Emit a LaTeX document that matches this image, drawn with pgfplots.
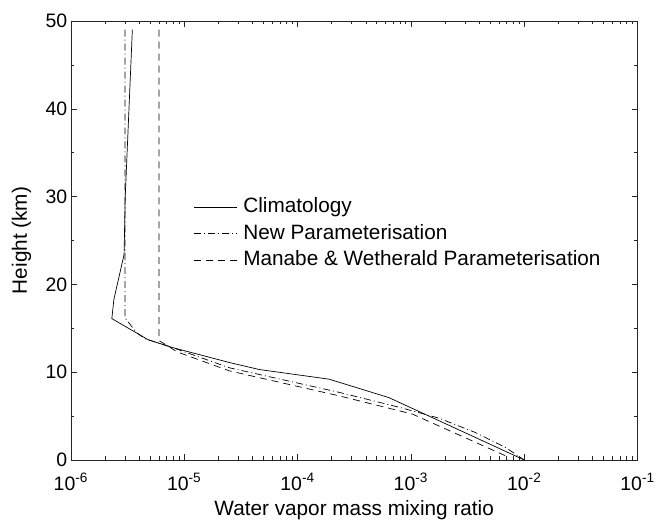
\documentclass[border=0pt]{standalone}
\usepackage{fontspec}
\setmainfont{Liberation Sans}
\usepackage{pgfplots}
\pgfplotsset{compat=1.18}

\begin{document}
\begin{tikzpicture}
\begin{axis}[
    name=ax,
    scale only axis,
    width=568pt, height=440pt,
    xmode=log,
    xmin=1e-6, xmax=1e-1,
    ymin=0, ymax=50,
    xtick={1e-6,1e-5,1e-4,1e-3,1e-2,1e-1},
    xticklabels={10\textsuperscript{-6},10\textsuperscript{-5},10\textsuperscript{-4},10\textsuperscript{-3},10\textsuperscript{-2},10\textsuperscript{-1}},
    ytick={0,10,20,30,40,50},
    minor ytick={5,15,25,35,45},
    /pgf/number format/assume math mode=true,
    tick align=inside,
    major tick length=6pt,
    minor tick length=3.5pt,
    axis line style={black!85, line width=0.6pt},
    tick style={black!85, line width=0.5pt},
    tick label style={font=\fontsize{19.5}{22}\selectfont},
    xticklabel style={anchor=base, yshift=-30.5pt},
    xlabel={Water vapor mass mixing ratio},
    ylabel={Height (km)},
    label style={font=\fontsize{20.8}{24}\selectfont},
    xlabel style={at={(axis description cs:0.5,-0.1266)}, anchor=base},
    ylabel style={at={(axis description cs:-0.087,0.5)}, anchor=center},
    legend style={at={(rel axis cs:0.2165,0.601)}, anchor=north west,
        draw=none, fill=none, inner sep=0pt, row sep=4.5pt, column sep=5pt,
        font=\fontsize{20.8}{24}\selectfont,
        nodes={inner sep=1pt, text height=15.5pt, text depth=4.5pt}},
    legend cell align=left,
    legend image code/.code={\draw[#1] (0pt,0pt) -- (43pt,0pt);},
]
% Climatology
\addplot[black, line width=0.7pt] coordinates {
(3.49e-6,49) (3.02e-6,30) (2.95e-6,23.4) (2.4e-6,18.3) (2.3e-6,16.1)
(4.8e-6,13.7) (7.9e-6,12.8) (2.5e-5,11.1) (4.6e-5,10.3) (1.9e-4,9.2)
(6.4e-4,7.1) (1e-2,0)
};
\addlegendentry{Climatology}
% New parameterisation
\addplot[black, line width=0.7pt, dash pattern=on 7pt off 3pt on 1pt off 3pt] coordinates {
(3.0e-6,49) (3.0e-6,16.2) (3.8e-6,14.5) (4.5e-6,13.8) (7.9e-6,12.8)
(2.5e-5,10.5) (2.33e-4,7.7) (7.9e-4,6.0) (1.78e-3,4.75) (3.7e-3,3.13)
(6.8e-3,1.44) (1e-2,0)
};
\addlegendentry{New Parameterisation}
% Manabe & Wetherald
\addplot[black, line width=0.7pt, dash pattern=on 7pt off 5pt] coordinates {
(6.0e-6,49) (6.0e-6,13.6) (8.7e-6,12.3) (2.5e-5,10.15) (2.33e-4,7.3)
(1.03e-3,5.23) (6.8e-3,0.49) (7.2e-3,0)
};
\addlegendentry{Manabe \& Wetherald Parameterisation}
\end{axis}
% page margins as in the reference
\path (ax.south west) ++(-71pt,-58pt) (ax.north east) ++(19pt,21pt);
\end{tikzpicture}
\end{document}
